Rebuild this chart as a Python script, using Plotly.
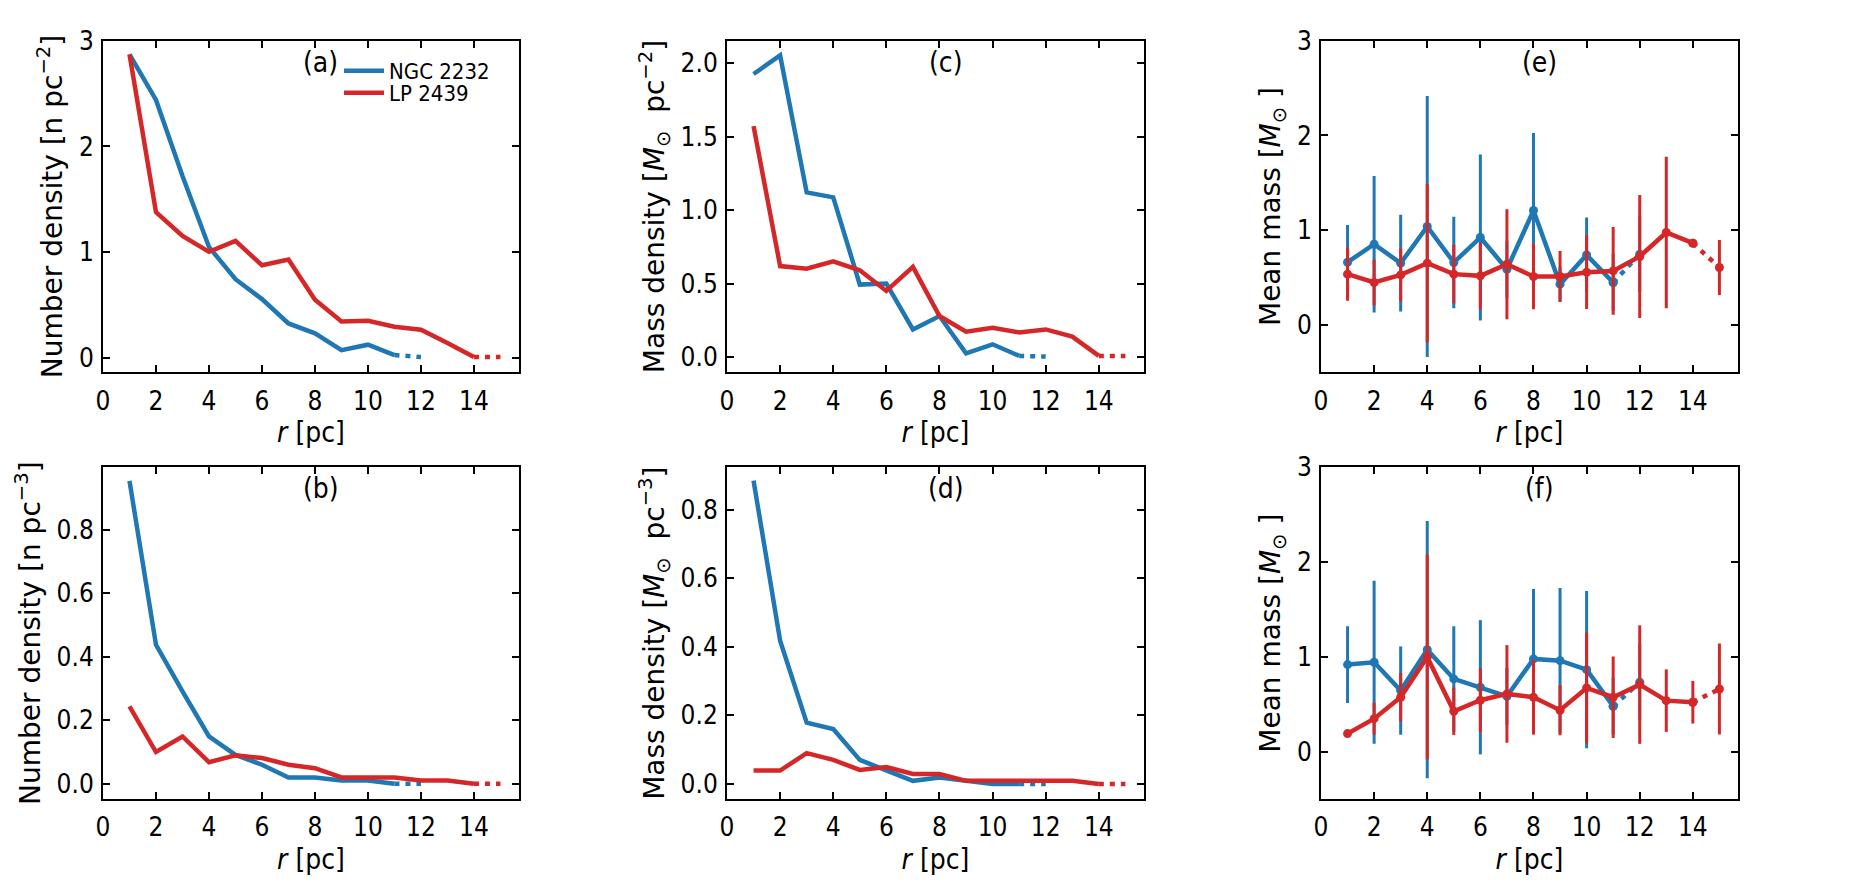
import plotly.graph_objects as go

# ---------------- data ----------------
r_ngc = [1, 2, 3, 4, 5, 6, 7, 8, 9, 10, 11, 12]
r_lp = [1, 2, 3, 4, 5, 6, 7, 8, 9, 10, 11, 12, 13, 14, 15]

# (a) number density [n pc^-2]
a_ngc = [2.87, 2.44, 1.72, 1.05, 0.745, 0.557, 0.327, 0.233, 0.075, 0.126, 0.028, 0.01]
a_lp = [2.87, 1.38, 1.155, 1.004, 1.107, 0.877, 0.931, 0.551, 0.346, 0.352, 0.296, 0.268, 0.142, 0.01, 0.01]
# (b) number density [n pc^-3]
b_ngc = [0.954, 0.438, 0.291, 0.149, 0.091, 0.060, 0.020, 0.020, 0.010, 0.010, 0.0, 0.0]
b_lp = [0.244, 0.10, 0.149, 0.068, 0.09, 0.081, 0.06, 0.049, 0.02, 0.02, 0.02, 0.01, 0.01, 0.0, 0.0]
# (c) mass density [Msun pc^-2]
c_ngc = [1.926, 2.053, 1.121, 1.087, 0.494, 0.501, 0.189, 0.28, 0.027, 0.088, 0.009, 0.005]
c_lp = [1.572, 0.62, 0.602, 0.652, 0.591, 0.451, 0.614, 0.28, 0.174, 0.201, 0.169, 0.189, 0.14, 0.009, 0.009]
# (d) mass density [Msun pc^-3]
d_ngc = [0.885, 0.418, 0.179, 0.160, 0.070, 0.041, 0.009, 0.019, 0.009, 0.0, 0.0, 0.0]
d_lp = [0.039, 0.039, 0.090, 0.070, 0.041, 0.049, 0.029, 0.029, 0.009, 0.009, 0.009, 0.009, 0.009, 0.0, 0.0]
# (e) mean mass
e_ngc = [0.662, 0.852, 0.652, 1.039, 0.659, 0.923, 0.588, 1.208, 0.43, 0.739, 0.448, 0.747]
e_ngc_err = [0.394, 0.72, 0.51, 1.377, 0.484, 0.875, 0.3, 0.817, 0.18, 0.395, 0.3, 0.4]
e_lp = [0.536, 0.448, 0.528, 0.652, 0.536, 0.518, 0.641, 0.511, 0.511, 0.557, 0.570, 0.722, 0.976, 0.863, 0.606]
e_lp_err = [0.28, 0.24, 0.28, 0.835, 0.31, 0.352, 0.58, 0.345, 0.27, 0.39, 0.463, 0.65, 0.80, 0.0, 0.29]
# (f) mean mass
f_ngc = [0.918, 0.943, 0.644, 1.076, 0.767, 0.679, 0.584, 0.978, 0.960, 0.865, 0.479, 0.732]
f_ngc_err = [0.405, 0.86, 0.466, 1.357, 0.556, 0.708, 0.3, 0.738, 0.767, 0.83, 0.3, 0.4]
f_lp = [0.19, 0.348, 0.574, 0.999, 0.426, 0.542, 0.609, 0.574, 0.437, 0.672, 0.574, 0.707, 0.538, 0.521, 0.661]
f_lp_err = [0.0, 0.168, 0.255, 1.08, 0.25, 0.337, 0.515, 0.395, 0.265, 0.585, 0.43, 0.625, 0.33, 0.225, 0.48]

x_ticks = [0, 2, 4, 6, 8, 10, 12, 14]
names = ["NGC 2232", "LP 2439"]
BLUE = "#1f77b4"
RED = "#d62728"
FONT = "DejaVu Sans Condensed, DejaVu Sans, sans-serif"
FONT_Y = "DejaVu Sans, sans-serif"

# ---------------- geometry ----------------
W, H = 1858, 880
cols = [(95, 511), (719, 1136), (1313, 1730)]
rows = [(32.7, 364.3), (459.3, 791)]

panels = [
    (1, 0, 0, "(a)", "Number density [n pc<sup>−2</sup>]", [-0.135, 3.0], [0, 1, 2, 3], "d", a_ngc, a_lp, None, None),
    (2, 0, 1, "(b)", "Number density [n pc<sup>−3</sup>]", [-0.048, 0.997], [0, 0.2, 0.4, 0.6, 0.8], ".1f", b_ngc, b_lp, None, None),
    (3, 1, 0, "(c)", "Mass density [<i>M</i><sub>⊙</sub>  pc<sup>−2</sup>]", [-0.1025, 2.1525], [0, 0.5, 1.0, 1.5, 2.0], ".1f", c_ngc, c_lp, None, None),
    (4, 1, 1, "(d)", "Mass density [<i>M</i><sub>⊙</sub>  pc<sup>−3</sup>]", [-0.044, 0.924], [0, 0.2, 0.4, 0.6, 0.8], ".1f", d_ngc, d_lp, None, None),
    (5, 2, 0, "(e)", "Mean mass [<i>M</i><sub>⊙</sub> ]", [-0.5, 3.0], [0, 1, 2, 3], "d", e_ngc, e_lp, e_ngc_err, e_lp_err),
    (6, 2, 1, "(f)", "Mean mass [<i>M</i><sub>⊙</sub> ]", [-0.5, 3.0], [0, 1, 2, 3], "d", f_ngc, f_lp, f_ngc_err, f_lp_err),
]

fig = go.Figure()
LW = 4.5
DOT = "5px,6px"


def err(arr, color):
    if arr is None:
        return None
    return dict(type="data", array=arr, visible=True, thickness=3, width=0, color=color)


annotations = []
layout_axes = {}
for idx, c, rw, label, ytitle, yr, yt, fmt, ngc, lp, ngc_e, lp_e in panels:
    xa = "x" if idx == 1 else f"x{idx}"
    ya = "y" if idx == 1 else f"y{idx}"
    has_err = ngc_e is not None
    mode = "lines+markers" if has_err else "lines"
    mk = dict(size=9)
    # NGC 2232: solid r 1..11, dotted 11..12
    fig.add_trace(go.Scatter(
        x=r_ngc[:11], y=ngc[:11], mode=mode, name=names[0], legend="legend",
        line=dict(color=BLUE, width=LW), marker=dict(color=BLUE, **mk),
        error_y=err(ngc_e[:11], BLUE) if has_err else None,
        showlegend=(idx == 1), xaxis=xa, yaxis=ya))
    fig.add_trace(go.Scatter(
        x=r_ngc[10:12], y=ngc[10:12], mode=mode, name=names[0],
        line=dict(color=BLUE, width=LW, dash=DOT), marker=dict(color=BLUE, **mk),
        error_y=err([0] + ngc_e[11:12], BLUE) if has_err else None,
        showlegend=False, xaxis=xa, yaxis=ya))
    # LP 2439: solid r 1..14, dotted 14..15
    fig.add_trace(go.Scatter(
        x=r_lp[:14], y=lp[:14], mode=mode, name=names[1], legend="legend2",
        line=dict(color=RED, width=LW), marker=dict(color=RED, **mk),
        error_y=err(lp_e[:14], RED) if has_err else None,
        showlegend=(idx == 1), xaxis=xa, yaxis=ya))
    fig.add_trace(go.Scatter(
        x=r_lp[13:15], y=lp[13:15], mode=mode, name=names[1],
        line=dict(color=RED, width=LW, dash=DOT), marker=dict(color=RED, **mk),
        error_y=err([0] + lp_e[14:15], RED) if has_err else None,
        showlegend=False, xaxis=xa, yaxis=ya))

    x0, x1 = cols[c]
    y0, y1 = rows[rw]
    common = dict(showline=True, linecolor="black", linewidth=2, mirror="ticks",
                  ticks="inside", ticklen=7, tickwidth=1.7, tickcolor="black",
                  showgrid=False, zeroline=False, automargin=False,
                  tickfont=dict(family=FONT, size=26, color="black"))
    layout_axes["xaxis" if idx == 1 else f"xaxis{idx}"] = dict(
        domain=[x0 / W, x1 / W], range=[0, 15.7], tickvals=x_ticks, anchor=ya,
        title=dict(text="<i>r</i> [pc]", font=dict(family=FONT, size=28, color="black"), standoff=8),
        ticklabelstandoff=4, **common)
    layout_axes["yaxis" if idx == 1 else f"yaxis{idx}"] = dict(
        domain=[1 - y1 / H, 1 - y0 / H], range=yr, tickvals=yt, tickformat=fmt, anchor=xa,
        title=dict(text=ytitle, font=dict(family=FONT_Y, size=28, color="black"), standoff=8),
        ticklabelstandoff=2, **common)
    annotations.append(dict(text=label, xref=f"{xa} domain", yref=f"{ya} domain",
                            x=0.524, y=0.935, xanchor="center", yanchor="middle",
                            showarrow=False, font=dict(family=FONT, size=28, color="black")))

leg_common = dict(xanchor="left", yanchor="top", font=dict(family=FONT, size=22, color="black"),
                  bgcolor="rgba(0,0,0,0)", itemwidth=40)
fig.update_layout(
    width=W, height=H,
    margin=dict(l=0, r=0, t=0, b=0),
    paper_bgcolor="white", plot_bgcolor="white",
    annotations=annotations,
    showlegend=True,
    legend=dict(x=331 / W, y=1 - 42 / H, **leg_common),
    legend2=dict(x=331 / W, y=1 - 64 / H, **leg_common),
    **layout_axes,
)

fig.write_html("out.html")
